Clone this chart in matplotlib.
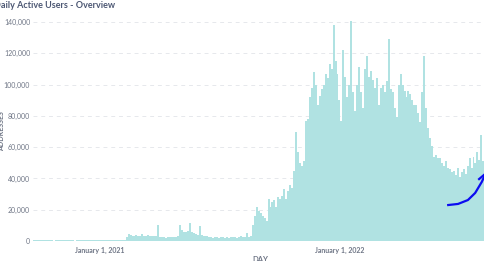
import numpy as np
import matplotlib
matplotlib.use("Agg")
import matplotlib.pyplot as plt
import matplotlib.dates as mdates
from datetime import date, timedelta

plt.rcParams['font.family'] = ['Lato', 'DejaVu Sans']

# daily active addresses, one value per 3 days, in thousands
start_day = date(2020, 9, 21)
step_days = 3
active_k = [
    # Sep 2020 - Feb 2021, almost nothing
    0.5, 0.6, 0.4, 0.7, 0.5, 0.6, 0.5, 0.4, 0.6, 0.5,
    0.3, 0.6, 0.5, 0.7, 0.4, 0.5, 0.6, 0.5, 0.4, 0.6,
    0.5, 0.3, 0.5, 0.6, 0.7, 0.5, 0.4, 0.6, 0.5, 0.5,
    0.6, 0.4, 0.5, 0.7, 0.5, 0.6, 0.4, 0.5, 0.6, 0.5,
    0.5, 0.6, 0.4, 0.5, 0.7, 0.6, 0.8,
    # Feb 2021 onwards
    2.5, 4.5, 4.0, 3.5, 3.0, 4.0, 3.5, 3.0, 4.2, 3.0,
    3.5, 3.8, 3.0, 3.5, 3.2, 3.0, 10.5,
    2.8, 2.5, 2.6, 2.2, 2.5, 2.4, 2.8, 2.5, 2.6, 3.0,
    10.5, 7.0, 6.0, 5.5, 6.5, 11.8, 6.0, 5.0, 4.5, 4.0,
    9.5, 4.0, 3.5, 3.0, 3.2, 2.8,
    2.5, 2.2, 2.8, 2.4, 2.0, 2.3, 2.6, 2.2, 2.5, 2.1,
    2.4, 2.8, 2.5, 2.2, 2.6, 3.0, 2.5, 2.8, 5.0, 2.6,
    # autumn 2021 ramp
    3, 10, 16, 22, 19, 18, 16, 15, 13, 27,
    22, 25, 26, 22, 28, 27, 29, 33, 27, 32,
    36, 34, 45, 70, 57, 50, 48, 51, 77, 78,
    92, 98, 108, 100, 87, 93, 97, 100, 107, 104,
    113, 110, 138, 115, 107, 90, 77, 122, 105, 92,
    100, 141, 95, 83, 100, 111, 95, 85, 110, 118,
    105, 109, 103, 98, 104, 87, 98, 100, 95, 102,
    129, 97, 95, 85, 79, 100, 107, 100, 96, 92,
    96, 94, 90, 87, 87, 82, 76, 95, 118, 85,
    72, 66, 61, 54, 55, 53, 53, 50, 48, 51,
    47, 46, 44, 45, 42, 47, 41, 44, 46, 43,
    48, 53, 47, 54, 50, 57, 52, 68, 51, 55,
]

# blue trend line (thousands)
trend_days = [date(2022, 6, 15), date(2022, 6, 30), date(2022, 7, 15),
              date(2022, 7, 26), date(2022, 8, 5), date(2022, 8, 10)]
trend_k = [23.0, 23.7, 26.2, 30.7, 37.7, 42.2]
trend2_days = [date(2022, 8, 1), date(2022, 8, 10)]
trend2_k = [39.6, 42.8]

bar_days = [start_day + timedelta(days=step_days * i) for i in range(len(active_k))]
bar_x = mdates.date2num(bar_days)
bar_y = np.array(active_k) * 1000

fig = plt.figure(figsize=(4.85, 2.61), dpi=100)
ax = fig.add_axes([33 / 485, 20 / 261, 1 - 33 / 485, 0.8508])

ax.bar(bar_x, bar_y, width=step_days, align='edge', color='#b0e2e2', linewidth=0, zorder=2)
ax.plot(mdates.date2num(trend_days), np.array(trend_k) * 1000, color='#0c0cf0', lw=1.6, zorder=3)
ax.plot(mdates.date2num(trend2_days), np.array(trend2_k) * 1000, color='#0c0cf0', lw=1.6, zorder=3)

ax.set_xlim(mdates.date2num(date(2020, 9, 21)), mdates.date2num(date(2022, 8, 10)))
ax.set_ylim(0, 142000)
ax.set_yticks(range(0, 140001, 20000))
ax.set_yticklabels([f"{v:,}" for v in range(0, 140001, 20000)])
ax.set_xticks(mdates.date2num([date(2021, 1, 1), date(2022, 1, 1)]))
ax.set_xticklabels(["January 1, 2021", "January 1, 2022"])

ax.grid(axis='y', color='#e6e8ec', linestyle=(0, (4, 4)), linewidth=0.7, zorder=0)
for s in ax.spines.values():
    s.set_visible(False)
ax.tick_params(length=0, labelsize=5, labelcolor='#6f7686')
ax.tick_params(axis='y', pad=2)
ax.tick_params(axis='x', pad=4)
for lbl in ax.get_xticklabels():
    lbl.set_fontweight('bold')

fig.text(-6 / 485, 1 - 6 / 261, "Daily Active Users - Overview", fontsize=6.5,
         fontweight='bold', color='#4c5773', va='center', ha='left')
fig.text(2 / 485, 130 / 261, "ADDRESSES", fontsize=5, rotation=90, color='#6f7686',
         va='center', ha='center', fontweight='bold')
fig.text(260 / 485, 1 - 259 / 261, "DAY", fontsize=5.5, color='#6f7686',
         va='center', ha='center', fontweight='bold')

fig.savefig("out.png", dpi=100)
